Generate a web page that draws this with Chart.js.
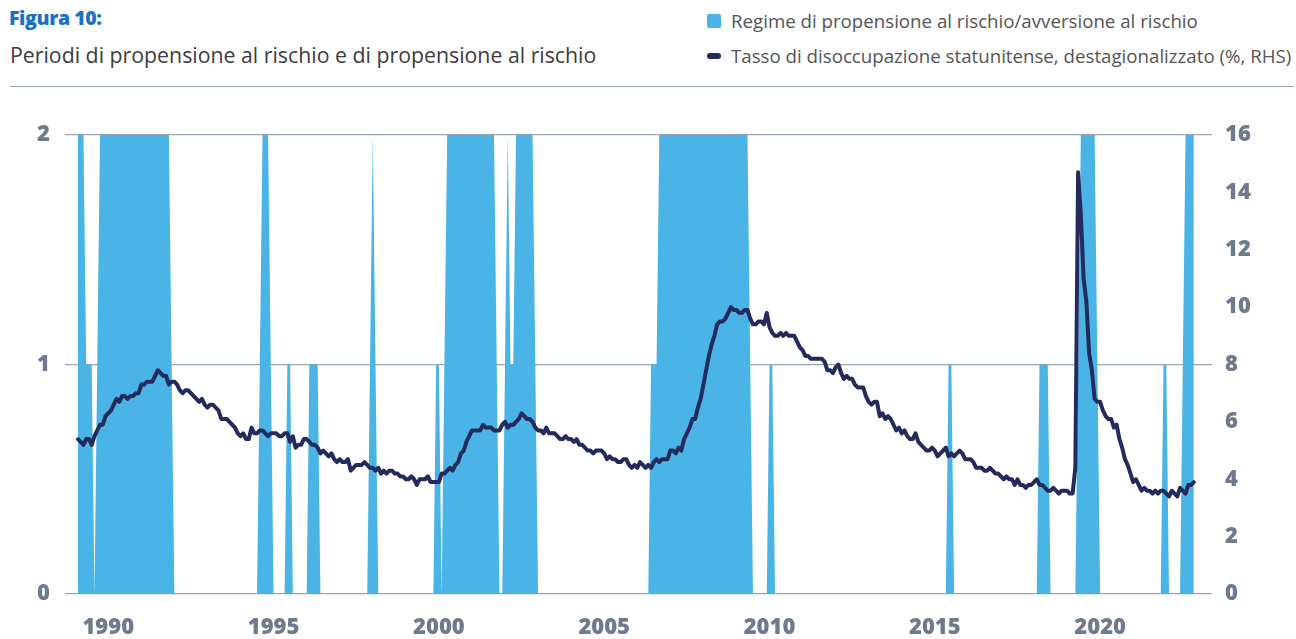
<!DOCTYPE html>
<html>
<head>
<meta charset="utf-8">
<script src="https://cdn.jsdelivr.net/npm/chart.js@4.4.1/dist/chart.umd.min.js"></script>
<style>
  html, body { margin: 0; padding: 0; background: #fff; }
  body { width: 1296px; height: 639px; position: relative; overflow: hidden; font-family: 'Open Sans', sans-serif; }
  .fig { position: absolute; left: 9px; top: 4px; font-size: 19.5px; font-weight: 800; color: #1b72c4; letter-spacing: -0.4px; }
  .sub { position: absolute; left: 10px; top: 40px; font-size: 21.3px; color: #3d3d3d; }
  .leg { position: absolute; left: 707px; font-size: 18.7px; color: #555; display: flex; align-items: center; }
  .leg i { display: inline-block; margin-right: 10px; }
  .sq { width: 14px; height: 14px; background: #4ab4e6; border-radius: 2px; }
  .ln { width: 14px; height: 6px; background: #232b5c; border-radius: 3px; }
  .rule { position: absolute; left: 10px; right: 2px; top: 86px; height: 1px; background: #98a4b2; }
  #wrap { position: absolute; left: 0; top: 100px; width: 1296px; height: 539px; }
</style>
</head>
<body>
<div class="fig">Figura 10:</div>
<div class="sub">Periodi di propensione al rischio e di propensione al rischio</div>
<div class="leg" style="top:8px"><i class="sq"></i>Regime di propensione al rischio/avversione al rischio</div>
<div class="leg" style="top:43px"><i class="ln"></i>Tasso di disoccupazione statunitense, destagionalizzato (%, RHS)</div>
<div class="rule"></div>
<div id="wrap"><canvas id="chart"></canvas></div>
<script>
// monthly data, one row per year, starting January 1990
const START_YEAR = 1990;
const TICK_YEARS = [1990, 1995, 2000, 2005, 2010, 2015, 2020];

// regime: 0, 1, 2 (left axis)
const REGIME = [
  [2,2,2,1,1,1,0,1,2,2,2,2], // 1990
  [2,2,2,2,2,2,2,2,2,2,2,2],
  [2,2,2,2,2,2,2,2,2,2,1,0],
  [0,0,0,0,0,0,0,0,0,0,0,0],
  [0,0,0,0,0,0,0,0,0,0,0,0],
  [0,0,0,0,0,0,1,2,2,2,1,0], // 1995
  [0,0,0,0,1,1,0,0,0,0,0,0],
  [1,1,1,1,0,0,0,0,0,0,0,0],
  [0,0,0,0,0,0,0,0,0,0,1,2],
  [1,0,0,0,0,0,0,0,0,0,0,0],
  [0,0,0,0,0,0,0,0,0,0,1,1], // 2000
  [0,1,2,2,2,2,2,2,2,2,2,2],
  [2,2,2,2,2,2,2,2,1,0,0,1],
  [2,1,1,2,2,2,2,2,2,2,1,0],
  [0,0,0,0,0,0,0,0,0,0,0,0],
  [0,0,0,0,0,0,0,0,0,0,0,0], // 2005
  [0,0,0,0,0,0,0,0,0,0,0,0],
  [0,0,0,0,1,1,1,2,2,2,2,2],
  [2,2,2,2,2,2,2,2,2,2,2,2],
  [2,2,2,2,2,2,2,2,2,2,2,2],
  [2,2,2,2,1,0,0,0,0,0,0,1], // 2010
  [1,0,0,0,0,0,0,0,0,0,0,0],
  [0,0,0,0,0,0,0,0,0,0,0,0],
  [0,0,0,0,0,0,0,0,0,0,0,0],
  [0,0,0,0,0,0,0,0,0,0,0,0],
  [0,0,0,0,0,0,0,0,0,0,0,0], // 2015
  [0,0,0,0,1,1,0,0,0,0,0,0],
  [0,0,0,0,0,0,0,0,0,0,0,0],
  [0,0,0,0,0,0,0,0,0,0,0,0],
  [0,1,1,1,1,0,0,0,0,0,0,0],
  [0,0,0,1,2,2,2,2,2,2,1,0], // 2020
  [0,0,0,0,0,0,0,0,0,0,0,0],
  [0,0,0,0,0,0,0,0,0,0,1,1],
  [0,0,0,0,0,1,2,2,2,2]      // 2023
];

// US unemployment rate, seasonally adjusted, % (right axis)
const UNRATE = [
  [5.4,5.3,5.2,5.4,5.4,5.2,5.5,5.7,5.9,5.9,6.2,6.3], // 1990
  [6.4,6.6,6.8,6.7,6.9,6.9,6.8,6.9,6.9,7.0,7.0,7.3],
  [7.3,7.4,7.4,7.4,7.6,7.8,7.7,7.6,7.6,7.3,7.4,7.4],
  [7.3,7.1,7.0,7.1,7.1,7.0,6.9,6.8,6.7,6.8,6.6,6.5],
  [6.6,6.6,6.5,6.4,6.1,6.1,6.1,6.0,5.9,5.8,5.6,5.5],
  [5.6,5.4,5.4,5.8,5.6,5.6,5.7,5.7,5.6,5.5,5.6,5.6], // 1995
  [5.6,5.5,5.5,5.6,5.6,5.3,5.5,5.1,5.2,5.2,5.4,5.4],
  [5.3,5.2,5.2,5.1,4.9,5.0,4.9,4.8,4.9,4.7,4.6,4.7],
  [4.6,4.6,4.7,4.3,4.4,4.5,4.5,4.5,4.6,4.5,4.4,4.4],
  [4.3,4.4,4.2,4.3,4.2,4.3,4.3,4.2,4.2,4.1,4.1,4.0],
  [4.0,4.1,4.0,3.8,4.0,4.0,4.0,4.1,3.9,3.9,3.9,3.9], // 2000
  [4.2,4.2,4.3,4.4,4.3,4.5,4.6,4.9,5.0,5.3,5.5,5.7],
  [5.7,5.7,5.7,5.9,5.8,5.8,5.8,5.7,5.7,5.7,5.9,6.0],
  [5.8,5.9,5.9,6.0,6.1,6.3,6.2,6.1,6.1,6.0,5.8,5.7],
  [5.7,5.6,5.8,5.6,5.6,5.6,5.5,5.4,5.4,5.5,5.4,5.4],
  [5.3,5.4,5.2,5.2,5.1,5.0,5.0,4.9,5.0,5.0,5.0,4.9], // 2005
  [4.7,4.8,4.7,4.7,4.6,4.6,4.7,4.7,4.5,4.4,4.5,4.4],
  [4.6,4.5,4.4,4.5,4.4,4.6,4.7,4.6,4.7,4.7,4.7,5.0],
  [5.0,4.9,5.1,5.0,5.4,5.6,5.8,6.1,6.1,6.5,6.8,7.3],
  [7.8,8.3,8.7,9.0,9.4,9.5,9.5,9.6,9.8,10.0,9.9,9.9],
  [9.8,9.8,9.9,9.9,9.6,9.4,9.4,9.5,9.5,9.4,9.8,9.3], // 2010
  [9.1,9.0,9.0,9.1,9.0,9.1,9.0,9.0,9.0,8.8,8.6,8.5],
  [8.3,8.3,8.2,8.2,8.2,8.2,8.2,8.1,7.8,7.8,7.7,7.9],
  [8.0,7.7,7.5,7.6,7.5,7.5,7.3,7.2,7.2,7.2,6.9,6.7],
  [6.6,6.7,6.7,6.2,6.3,6.1,6.2,6.1,5.9,5.7,5.8,5.6],
  [5.7,5.5,5.4,5.4,5.6,5.3,5.2,5.1,5.0,5.0,5.1,5.0], // 2015
  [4.8,4.9,5.0,5.1,4.8,4.9,4.8,4.9,5.0,4.9,4.7,4.7],
  [4.7,4.6,4.4,4.4,4.4,4.3,4.3,4.4,4.3,4.2,4.2,4.1],
  [4.0,4.1,4.0,4.0,3.8,4.0,3.8,3.8,3.7,3.8,3.8,3.9],
  [4.0,3.8,3.8,3.7,3.6,3.6,3.7,3.6,3.5,3.6,3.6,3.6],
  [3.5,3.5,4.4,14.7,13.2,11.0,10.2,8.4,7.8,6.8,6.7,6.7], // 2020
  [6.4,6.2,6.1,6.1,5.8,5.9,5.4,5.1,4.7,4.5,4.2,3.9],
  [4.0,3.8,3.6,3.7,3.6,3.6,3.5,3.6,3.5,3.6,3.6,3.5],
  [3.4,3.6,3.5,3.4,3.7,3.6,3.5,3.8,3.8,3.9]          // 2023
];

const toPoints = rows => rows.flatMap((row, y) => row.map((v, m) => ({ x: y * 12 + m, y: v })));

const BLUE = '#4ab4e6';
const NAVY = '#232b5c';
const GRID = '#9ba6b3';
const TICK = '#6e7b8d';
const tickFont = { family: "'Open Sans', sans-serif", size: 22, weight: '800' };

new Chart(document.getElementById('chart'), {
  type: 'line',
  data: {
    datasets: [
      {
        label: 'Tasso di disoccupazione statunitense, destagionalizzato (%, RHS)',
        data: toPoints(UNRATE),
        yAxisID: 'y1',
        borderColor: NAVY,
        borderWidth: 4,
        borderJoinStyle: 'round',
        borderCapStyle: 'round',
        pointRadius: 0,
        fill: false,
        tension: 0
      },
      {
        label: 'Regime di propensione al rischio/avversione al rischio',
        data: toPoints(REGIME),
        yAxisID: 'y',
        borderWidth: 0,
        borderColor: BLUE,
        backgroundColor: BLUE,
        pointRadius: 0,
        fill: 'origin',
        tension: 0
      }
    ]
  },
  options: {
    responsive: true,
    maintainAspectRatio: false,
    animation: false,
    layout: { padding: { top: 35, left: 0, right: 0, bottom: 0 } },
    plugins: {
      legend: { display: false },
      tooltip: { enabled: false }
    },
    scales: {
      x: {
        type: 'linear',
        min: -4.7,
        max: 411.6,
        afterBuildTicks: (scale) => {
          scale.ticks = TICK_YEARS.map(yr => ({ value: (yr - START_YEAR) * 12 + 11 }));
        },
        afterFit: (scale) => { scale.height = 45; },
        ticks: {
          color: TICK,
          font: tickFont,
          padding: 13,
          maxRotation: 0,
          autoSkip: false,
          callback: (value, index) => TICK_YEARS[index]
        },
        grid: { display: false },
        border: { display: false }
      },
      y: {
        position: 'left',
        min: 0,
        max: 2,
        afterFit: (scale) => { scale.width = 65; },
        ticks: { stepSize: 1, color: TICK, font: tickFont, padding: 15 },
        grid: { color: GRID, lineWidth: 1.2, drawTicks: false },
        border: { display: false }
      },
      y1: {
        position: 'right',
        min: 0,
        max: 16,
        afterFit: (scale) => { scale.width = 84; },
        ticks: { stepSize: 2, color: TICK, font: tickFont, padding: 13 },
        grid: { display: false, drawTicks: false },
        border: { display: false }
      }
    }
  }
});
</script>
</body>
</html>
